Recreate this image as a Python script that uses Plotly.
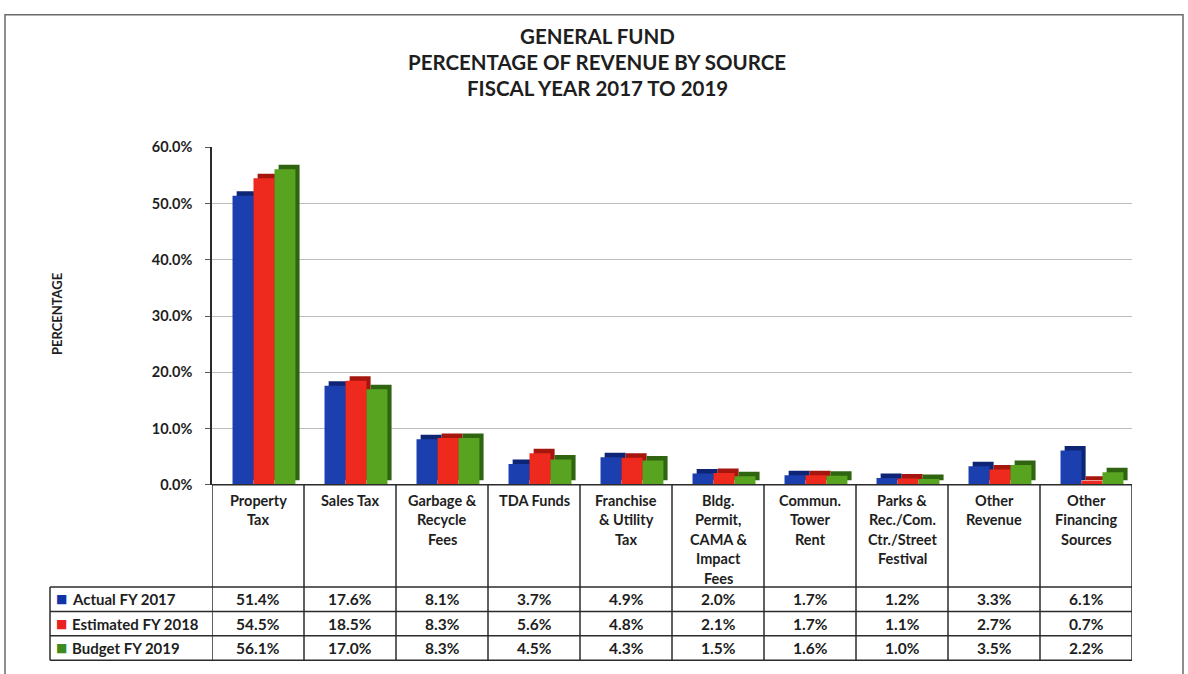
import plotly.graph_objects as go

# ---- data -------------------------------------------------------------
categories = [
    "Property Tax", "Sales Tax", "Garbage & Recycle Fees", "TDA Funds",
    "Franchise & Utility Tax", "Bldg. Permit, CAMA & Impact Fees",
    "Commun. Tower Rent", "Parks & Rec./Com. Ctr./Street Festival",
    "Other Revenue", "Other Financing Sources",
]
header_lines = [
    ["Property", "Tax"], ["Sales Tax"], ["Garbage &", "Recycle", "Fees"],
    ["TDA Funds"], ["Franchise", "& Utility", "Tax"],
    ["Bldg.", "Permit,", "CAMA &", "Impact", "Fees"],
    ["Commun.", "Tower", "Rent"], ["Parks &", "Rec./Com.", "Ctr./Street", "Festival"],
    ["Other", "Revenue"], ["Other", "Financing", "Sources"],
]
series_names = ["Actual FY 2017", "Estimated FY 2018", "Budget FY 2019"]
actual_2017 = [51.4, 17.6, 8.1, 3.7, 4.9, 2.0, 1.7, 1.2, 3.3, 6.1]
estimated_2018 = [54.5, 18.5, 8.3, 5.6, 4.8, 2.1, 1.7, 1.1, 2.7, 0.7]
budget_2019 = [56.1, 17.0, 8.3, 4.5, 4.3, 1.5, 1.6, 1.0, 3.5, 2.2]
y_ticks = [0, 10, 20, 30, 40, 50, 60]

series_values = [actual_2017, estimated_2018, budget_2019]
front_colors = ["#1c3fb0", "#ee2a1e", "#58a320"]
side_colors = ["#0e2474", "#a5160e", "#2f6410"]
key_colors = ["#1033a5", "#e82222", "#3f8a1e"]

# ---- page geometry (pixels) --------------------------------------------
W, H = 1188, 674
def px(x):
    return x / W
def py(y):
    return 1 - y / H

FONT = "Lato, 'Open Sans', Arial, sans-serif"
TXT = "#1e1e1e"
LINE = "#2b2b2b"

fig = go.Figure()

n = len(categories)
idx = list(range(n))
bar_w = 0.228
offsets = [-0.277, -0.049, 0.179]
depth_dx = 0.045   # category units
depth_dy = 0.8     # percent units

# shaded depth faces first, front faces on top
for vals, off, col in zip(series_values, offsets, side_colors):
    fig.add_trace(go.Bar(
        x=idx, y=vals, base=depth_dy, offset=off + depth_dx, width=bar_w,
        marker=dict(color=col, line=dict(width=0)), showlegend=False,
        hoverinfo="skip",
    ))
for name, vals, off, col in zip(series_names, series_values, offsets, front_colors):
    fig.add_trace(go.Bar(
        x=idx, y=vals, name=name, offset=off, width=bar_w,
        marker=dict(color=col, line=dict(width=0)), showlegend=False,
    ))

x_dom = [px(212), px(1132)]
y_dom = [py(488), py(142)]

fig.update_layout(
    width=W, height=H,
    margin=dict(l=0, r=0, t=0, b=0),
    paper_bgcolor="white", plot_bgcolor="white",
    barmode="overlay",
    showlegend=False,
    font=dict(family=FONT, color=TXT),
    xaxis=dict(
        domain=x_dom, range=[-0.5, n - 0.5], showticklabels=False,
        showgrid=False, zeroline=False, showline=False, fixedrange=True,
    ),
    yaxis=dict(
        domain=y_dom, range=[0, 60], tickmode="array", tickvals=y_ticks,
        ticktext=[f"{v:.1f}%" for v in y_ticks],
        tickfont=dict(family=FONT, size=14.5, color=TXT, weight="bold"),
        ticks="outside", ticklen=5, tickcolor="#555", ticklabelstandoff=10,
        showgrid=True, gridcolor="#bdbdbd", gridwidth=1,
        zeroline=False, showline=True, linecolor=LINE, linewidth=1.5,
        fixedrange=True,
    ),
)

# ---- title ------------------------------------------------------------
title_lines = ["GENERAL FUND", "PERCENTAGE OF REVENUE BY SOURCE", "FISCAL YEAR 2017 TO 2019"]
for i, t in enumerate(title_lines):
    fig.add_annotation(
        text=t, xref="paper", yref="paper", x=px(597), y=py(28 + i * 26.5),
        xanchor="center", yanchor="middle", showarrow=False,
        font=dict(family=FONT, size=20.5, color=TXT, weight="bold"),
    )

# y-axis title
fig.add_annotation(
    text="PERCENTAGE", xref="paper", yref="paper", x=px(57), y=py(313),
    xanchor="center", yanchor="middle", showarrow=False, textangle=-90,
    font=dict(family=FONT, size=13, color=TXT, weight="bold"),
)

# ---- data table -------------------------------------------------------
shapes = []
tbl_top, row_lines = 488, [593, 618, 643, 668]
# outer frame of the chart
shapes.append(dict(type="rect", xref="paper", yref="paper",
                   x0=px(5), x1=px(1183), y0=py(6), y1=py(690),
                   line=dict(color="#6a6a6a", width=1.5)))
# floor / top edge of the table
shapes.append(dict(type="line", xref="x", yref="paper", x0=-0.5, x1=n - 0.5,
                   y0=py(tbl_top), y1=py(tbl_top), line=dict(color=LINE, width=1.5)))
# column separators
for k in range(n + 1):
    shapes.append(dict(type="line", xref="x", yref="paper", x0=k - 0.5, x1=k - 0.5,
                       y0=py(tbl_top), y1=py(row_lines[-1]),
                       line=dict(color=LINE, width=1.5)))
# row separators (legend column included)
for ry in row_lines:
    shapes.append(dict(type="line", xref="paper", yref="paper", x0=px(50), x1=px(1132),
                       y0=py(ry), y1=py(ry), line=dict(color=LINE, width=1.5)))
shapes.append(dict(type="line", xref="paper", yref="paper", x0=px(50), x1=px(50),
                   y0=py(row_lines[0]), y1=py(row_lines[-1]),
                   line=dict(color=LINE, width=1.5)))
fig.update_layout(shapes=shapes)

# category headers
for k, lines in enumerate(header_lines):
    for j, t in enumerate(lines):
        fig.add_annotation(
            text=t, xref="x", yref="paper", x=k, y=py(504 + j * 20),
            xanchor="center", yanchor="middle", showarrow=False,
            font=dict(family=FONT, size=14.5, color=TXT, weight="bold"),
        )

# legend keys + value rows
for r, (name, vals, kc) in enumerate(zip(series_names, series_values, key_colors)):
    yc = (row_lines[r] + row_lines[r + 1]) / 2
    fig.add_annotation(
        text="■", xref="paper", yref="paper", x=px(54), y=py(yc),
        xanchor="left", yanchor="middle", showarrow=False,
        font=dict(family="DejaVu Sans", size=12, color=kc),
    )
    fig.add_annotation(
        text=name, xref="paper", yref="paper", x=px(70), y=py(yc),
        xanchor="left", yanchor="middle", showarrow=False,
        font=dict(family=FONT, size=15, color=TXT, weight="bold"),
    )
    for k, v in enumerate(vals):
        fig.add_annotation(
            text=f"{v:.1f}%", xref="x", yref="paper", x=k, y=py(yc),
            xanchor="center", yanchor="middle", showarrow=False,
            font=dict(family=FONT, size=15.5, color=TXT, weight="bold"),
        )

fig.write_html("out.html")
